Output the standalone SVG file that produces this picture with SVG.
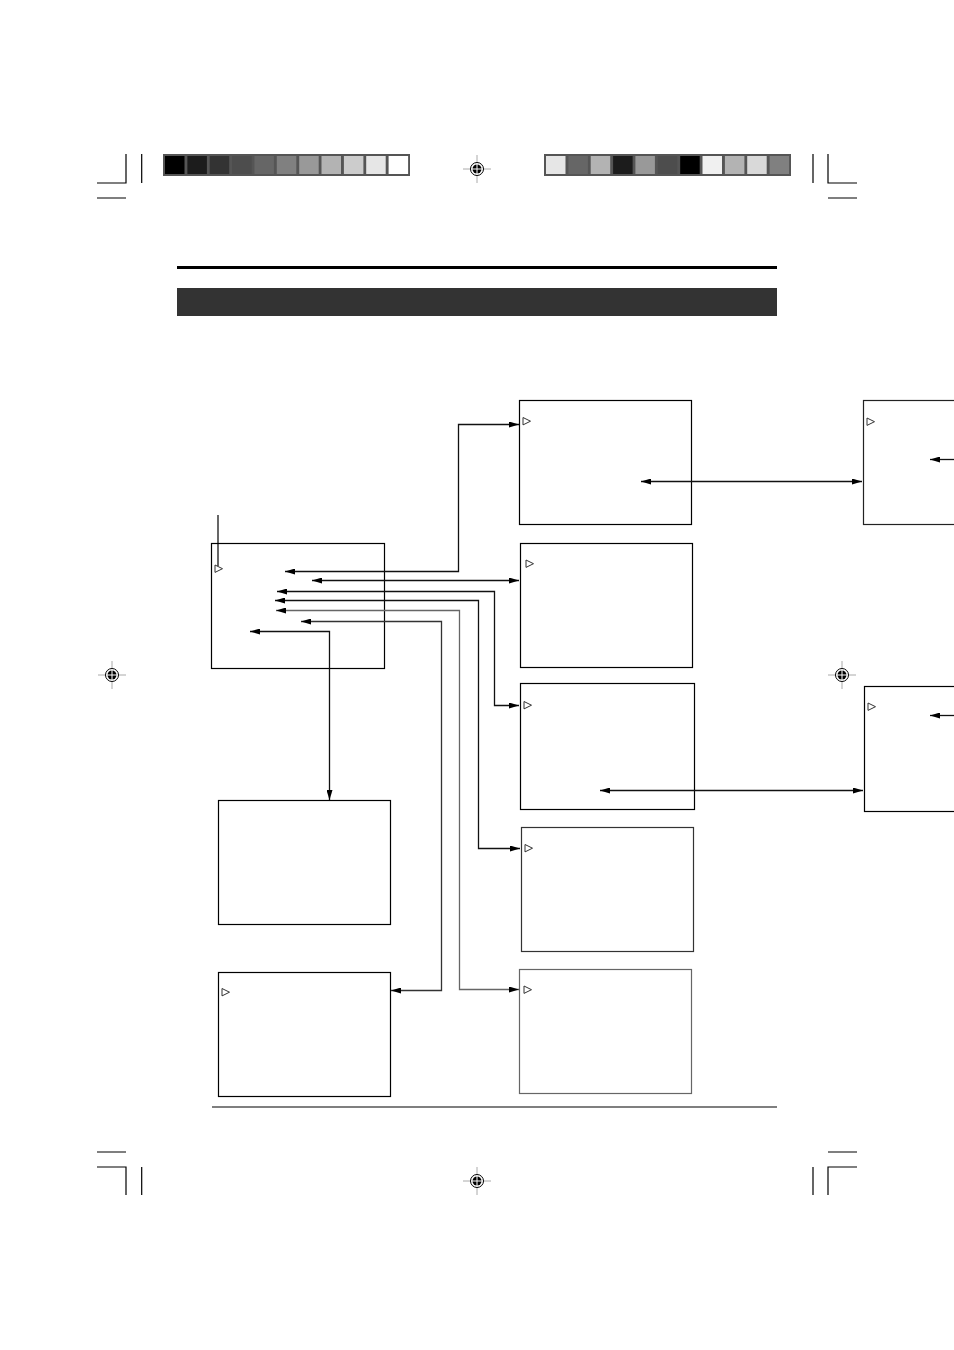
<svg xmlns="http://www.w3.org/2000/svg" width="954" height="1350" viewBox="0 0 954 1350">
<defs>
<marker id="ah" viewBox="0 0 10 6" refX="10" refY="3" markerWidth="10" markerHeight="6" markerUnits="userSpaceOnUse" orient="auto-start-reverse">
<path d="M0,0 L10,3 L0,6 z" fill="#000"/>
</marker>
<g id="reg">
<line x1="-14" y1="0" x2="14" y2="0" stroke="#aaa" stroke-width="1"/>
<line x1="0" y1="-14" x2="0" y2="14" stroke="#aaa" stroke-width="1"/>
<circle cx="0" cy="0" r="6.5" fill="#fff" stroke="#000" stroke-width="1"/>
<circle cx="0" cy="0" r="4.5" fill="#000"/>
<line x1="-5" y1="0" x2="5" y2="0" stroke="#fff" stroke-width="1"/>
<line x1="0" y1="-5" x2="0" y2="5" stroke="#fff" stroke-width="1"/>
</g>
<path id="tri" d="M0,0 L7.5,3.7 L0,7.4 z" fill="#fff" stroke="#333" stroke-width="1"/>
</defs>
<style>
.box{fill:#fff;stroke:#000;stroke-width:1.2}
.crop{stroke:#000;stroke-width:1.2;fill:none}
.c{fill:none;stroke:#111;stroke-width:1.3;marker-start:url(#ah);marker-end:url(#ah)}
.g{stroke:#666}
</style>
<rect width="954" height="1350" fill="#fff"/>

<g id="colorbar-left">
<rect x="163" y="154" width="247" height="22" fill="#555"/>
<rect x="165" y="156" width="19.5" height="18" fill="#000"/>
<rect x="187.4" y="156" width="19.5" height="18" fill="#1c1c1c"/>
<rect x="209.7" y="156" width="19.5" height="18" fill="#333"/>
<rect x="232.1" y="156" width="19.5" height="18" fill="#4d4d4d"/>
<rect x="254.4" y="156" width="19.5" height="18" fill="#666"/>
<rect x="276.8" y="156" width="19.5" height="18" fill="#808080"/>
<rect x="299.2" y="156" width="19.5" height="18" fill="#999"/>
<rect x="321.5" y="156" width="19.5" height="18" fill="#b3b3b3"/>
<rect x="343.9" y="156" width="19.5" height="18" fill="#ccc"/>
<rect x="366.2" y="156" width="19.5" height="18" fill="#e6e6e6"/>
<rect x="388.6" y="156" width="19.5" height="18" fill="#fff"/>
</g>
<g id="colorbar-right">
<rect x="544" y="154" width="247" height="22" fill="#555"/>
<rect x="546" y="156" width="19.5" height="18" fill="#e6e6e6"/>
<rect x="568.4" y="156" width="19.5" height="18" fill="#666"/>
<rect x="590.7" y="156" width="19.5" height="18" fill="#b3b3b3"/>
<rect x="613.1" y="156" width="19.5" height="18" fill="#1c1c1c"/>
<rect x="635.4" y="156" width="19.5" height="18" fill="#999"/>
<rect x="657.8" y="156" width="19.5" height="18" fill="#4d4d4d"/>
<rect x="680.2" y="156" width="19.5" height="18" fill="#000"/>
<rect x="702.5" y="156" width="19.5" height="18" fill="#f0f0f0"/>
<rect x="724.9" y="156" width="19.5" height="18" fill="#b3b3b3"/>
<rect x="747.2" y="156" width="19.5" height="18" fill="#d9d9d9"/>
<rect x="769.6" y="156" width="19.5" height="18" fill="#808080"/>
</g>

<g id="crop-marks">
<path class="crop" d="M97,183 H126 V154 M141.7,154 V183 M97,198 H126"/>
<path class="crop" d="M813,154 V183 M828,154 V183 H857 M828,198 H857"/>
<path class="crop" d="M97,1152 H126 M97,1167 H126 V1195 M141.7,1167 V1195"/>
<path class="crop" d="M828,1152 H857 M857,1167 H828 V1195 M813,1167 V1195"/>
</g>
<g id="registration">
<use href="#reg" x="477" y="169"/>
<use href="#reg" x="112" y="675"/>
<use href="#reg" x="842" y="675"/>
<use href="#reg" x="477" y="1181"/>
</g>

<g id="header">
<line x1="177" y1="267.5" x2="777" y2="267.5" stroke="#000" stroke-width="3"/>
<rect x="177" y="288" width="600" height="28" fill="#333"/>
</g>

<g id="main-menu">
<rect class="box" x="211.5" y="543.5" width="173" height="125"/>
<use href="#tri" x="215" y="565"/>
</g>
<g id="box-a">
<rect class="box" x="519.5" y="400.5" width="172" height="124"/>
<use href="#tri" x="523" y="417.5"/>
</g>
<g id="box-b">
<rect class="box" x="520.5" y="543.5" width="172" height="124"/>
<use href="#tri" x="526" y="560"/>
</g>
<g id="box-c">
<rect class="box" x="520.5" y="683.5" width="174" height="126"/>
<use href="#tri" x="524" y="701.5"/>
</g>
<g id="box-d">
<rect class="box" x="521.5" y="827.5" width="172" height="124" style="stroke:#333"/>
<use href="#tri" x="525" y="844.5"/>
</g>
<g id="box-e">
<rect class="box" x="519.5" y="969.5" width="172" height="124" style="stroke:#666"/>
<use href="#tri" x="524" y="986"/>
</g>
<g id="box-f">
<rect class="box" x="218.5" y="800.5" width="172" height="124"/>
</g>
<g id="box-g">
<rect class="box" x="218.5" y="972.5" width="172" height="124"/>
<use href="#tri" x="222" y="988.5"/>
</g>
<g id="box-h">
<rect class="box" x="863.5" y="400.5" width="100" height="124" style="stroke:#222"/>
<use href="#tri" x="867" y="418"/>
</g>
<g id="box-i">
<rect class="box" x="864.5" y="686.5" width="100" height="125"/>
<use href="#tri" x="868" y="703"/>
</g>

<g id="connectors">
<path d="M218,515 V566" fill="none" stroke="#000" stroke-width="1.2"/>
<path class="c" d="M285,571.5 H458.5 V424.5 H519"/>
<path class="c" d="M312,580.5 H519"/>
<path class="c" d="M277,591.5 H494.5 V705.5 H519"/>
<path class="c" d="M275,600.5 H478.5 V848.5 H520"/>
<path class="c g" d="M276,610.5 H459.5 V989.5 H519"/>
<path class="c" style="stroke:#333" d="M301,621.5 H441.5 V990.5 H391"/>
<path class="c" d="M250,631.5 H329.5 V800"/>
<path class="c" d="M641,481.5 H862"/>
<path class="c" d="M600,790.5 H863"/>
<path class="c" style="marker-end:none" d="M930,459.5 H954"/>
<path class="c" style="marker-end:none" d="M930,715.5 H954"/>
</g>

<line id="footer-rule" x1="212" y1="1107" x2="777" y2="1107" stroke="#000" stroke-width="1.2"/>
</svg>
